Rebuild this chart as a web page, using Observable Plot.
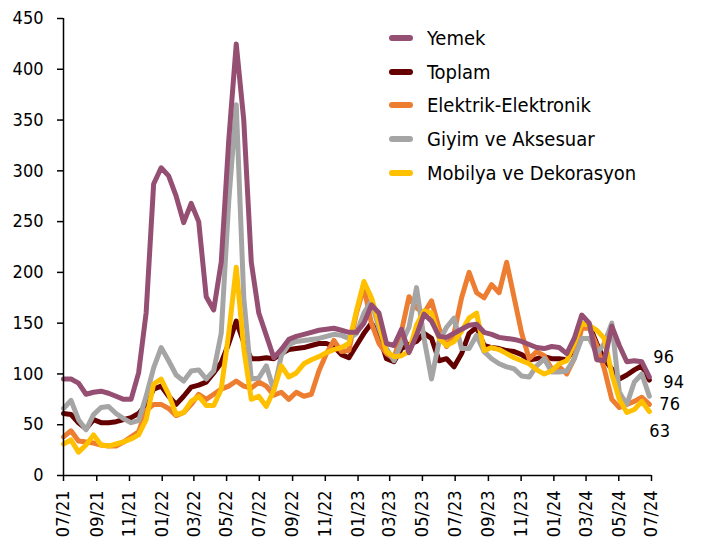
<!DOCTYPE html>
<html><head><meta charset="utf-8">
<script src="https://cdn.jsdelivr.net/npm/d3@7"></script>
<script src="https://cdn.jsdelivr.net/npm/@observablehq/plot@0.6"></script>
<style>
body{margin:0;background:#fff;}
#wrap{position:relative;width:711px;height:552px;font-family:"DejaVu Sans Condensed","DejaVu Sans",sans-serif;font-stretch:condensed;}
#legend{position:absolute;left:389px;top:21px;}
.item{display:flex;align-items:center;height:33.7px;font-size:20px;color:#000;white-space:nowrap;}
.sw{width:24px;height:6px;border-radius:3px;margin-right:14px;}
</style></head><body><div id="wrap"><div id="legend"></div></div>
<script>
// ---- data ----
const seriesNames = ["Yemek","Toplam","Elektrik-Elektronik","Giyim ve Aksesuar","Mobilya ve Dekorasyon"];
const startDay = "2021-07-01";   // first observation, then every 2 weeks
const endDay = "2024-07-01";
const yemek = [95,95,91,80,82,83,81,78,75,75,
  101,160,287,303,295,275,249,268,250,176,
  163,210,330,425,350,210,160,138,116,124,
  134,137,139,141,143,144,145,143,141,141,
  150,168,160,130,128,144,121,138,159,152,
  137,136,140,144,148,149,141,139,136,135,
  134,132,129,126,125,127,126,120,135,158,
  150,114,113,147,128,112,113,112,97];
const toplam = [61,60,52,46,55,52,52,53,55,57,
  61,70,85,88,78,70,78,87,89,92,
  101,111,130,152,131,115,115,116,115,120,
  124,125,126,128,130,130,127,119,116,128,
  140,150,138,115,112,125,129,132,140,135,
  113,115,107,120,140,146,128,126,125,123,
  122,119,114,115,117,115,115,114,125,148,
  148,130,114,105,95,99,104,108,94];
const elektrik = [38,44,34,33,32,30,29,29,33,38,
  43,64,70,70,66,59,62,70,80,75,
  80,85,88,93,88,86,92,88,79,82,
  75,82,78,80,103,120,133,122,123,160,
  185,150,130,120,115,142,176,165,160,172,
  145,127,140,175,200,180,175,188,180,210,
  175,140,115,122,118,105,107,100,115,145,
  145,128,105,75,67,70,73,77,70];
const giyim = [66,74,55,45,60,67,68,61,56,52,
  54,78,106,126,113,99,93,103,104,95,
  103,140,270,365,175,95,96,108,84,118,
  129,132,133,134,135,137,139,138,135,140,
  160,172,145,125,113,130,146,185,135,95,
  132,146,155,125,125,138,122,115,110,107,
  105,98,97,108,115,102,102,103,115,135,
  135,120,130,150,82,70,92,100,78];
const mobilya = [31,35,23,30,40,30,29,31,33,36,
  40,55,90,95,80,60,62,73,78,69,
  69,85,140,205,125,75,78,68,84,108,
  97,101,110,114,117,121,124,126,130,162,
  191,175,150,122,117,118,122,148,162,160,
  135,128,132,142,155,160,123,126,124,120,
  116,113,110,104,100,103,110,113,130,150,
  148,143,135,100,75,62,65,73,63];
const yTicks = [0,50,100,150,200,250,300,350,400,450];
const xTickFormat = "%m/%y";
const endLabels = ["96","94","76","63"];
const endLabelSeries = ["Yemek","Toplam","Giyim ve Aksesuar","Mobilya ve Dekorasyon"];

// ---- styles ----
const seriesColors = ["#954F72","#640000","#ED7D31","#A5A5A5","#FFC000"];
const drawOrder = ["Toplam","Elektrik-Elektronik","Giyim ve Aksesuar","Mobilya ve Dekorasyon","Yemek"];
const labelOffsets = [[4,-20],[14,2],[10,8],[0,20]];
const font = '"DejaVu Sans Condensed","DejaVu Sans",sans-serif';

const valuesBy = {"Yemek":yemek,"Toplam":toplam,"Elektrik-Elektronik":elektrik,"Giyim ve Aksesuar":giyim,"Mobilya ve Dekorasyon":mobilya};
const t0 = d3.utcParse("%Y-%m-%d")(startDay);
const t1 = d3.utcParse("%Y-%m-%d")(endDay);
const dates = yemek.map((_, i) => d3.utcDay.offset(t0, 14 * i));
const tidy = drawOrder.flatMap(name => valuesBy[name].map((v, i) => ({date: dates[i], value: v, series: name})));
const xTicks = d3.utcMonth.every(2).range(t0, d3.utcDay.offset(t1, 1));
const last = dates.length - 1;

const labelMarks = endLabels.map((lab, k) => Plot.text([{date: dates[last], value: valuesBy[endLabelSeries[k]][last], label: lab}], {
  x: "date", y: "value", text: "label", textAnchor: "start", lineAnchor: "middle",
  dx: labelOffsets[k][0], dy: labelOffsets[k][1], fontSize: 18, fill: "#000"
}));

const chart = Plot.plot({
  width: 711, height: 552,
  marginLeft: 63, marginRight: 60, marginTop: 18, marginBottom: 77,
  style: {fontFamily: font, fontSize: "18px", color: "#000", background: "transparent", overflow: "visible"},
  x: {type: "utc", domain: [t0, t1]},
  y: {domain: [0, 450]},
  color: {domain: seriesNames, range: seriesColors},
  marks: [
    Plot.axisY({ticks: yTicks, tickSize: 6, tickPadding: 14, fontSize: 18, label: null, strokeWidth: 1.5}),
    Plot.axisX({ticks: xTicks, tickFormat: d3.utcFormat(xTickFormat), tickRotate: -90, tickSize: 6, tickPadding: 9, fontSize: 18, label: null, strokeWidth: 1.5}),
    Plot.line(tidy, {x: "date", y: "value", z: "series", stroke: "series", strokeWidth: 5, strokeLinejoin: "round", strokeLinecap: "round"}),
    Plot.ruleX([t0], {stroke: "#000", strokeWidth: 1.5}),
    Plot.ruleY([0], {stroke: "#000", strokeWidth: 1.5}),
    ...labelMarks
  ]
});
document.getElementById("wrap").prepend(chart);
chart.style.position = "absolute"; chart.style.left = "0"; chart.style.top = "0";

const legend = document.getElementById("legend");
seriesNames.forEach((name, k) => {
  const row = document.createElement("div");
  row.className = "item";
  const sw = document.createElement("span");
  sw.className = "sw"; sw.style.background = seriesColors[k];
  const tx = document.createElement("span");
  tx.textContent = name;
  row.appendChild(sw); row.appendChild(tx);
  legend.appendChild(row);
});
</script></body></html>
